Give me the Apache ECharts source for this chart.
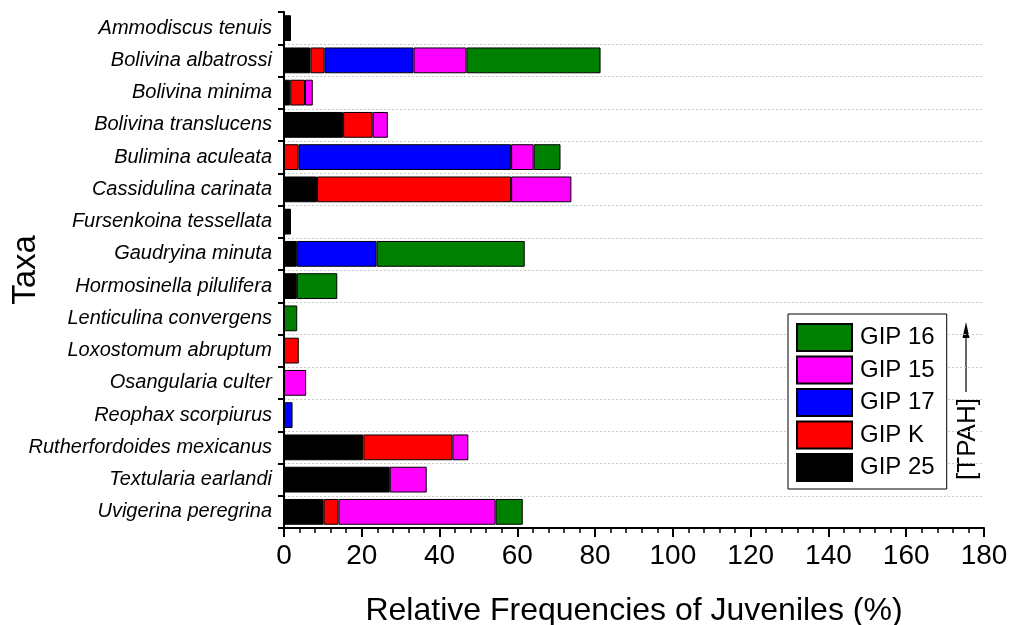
<!DOCTYPE html>
<html>
<head>
<meta charset="utf-8">
<script src="https://cdn.jsdelivr.net/npm/echarts@6/dist/echarts.min.js"></script>
<style>
  html, body { margin: 0; padding: 0; background: #fff; }
  #chart { width: 1011px; height: 625px; }
</style>
</head>
<body>
<div id="chart"></div>
<script>
// Taxa, listed top to bottom
const taxa = [
  'Ammodiscus tenuis', 'Bolivina albatrossi', 'Bolivina minima', 'Bolivina translucens',
  'Bulimina aculeata', 'Cassidulina carinata', 'Fursenkoina tessellata', 'Gaudryina minuta',
  'Hormosinella pilulifera', 'Lenticulina convergens', 'Loxostomum abruptum', 'Osangularia culter',
  'Reophax scorpiurus', 'Rutherfordoides mexicanus', 'Textularia earlandi', 'Uvigerina peregrina'
];

// Relative frequencies of juveniles (%) per station; null = not present
const gip25 = [1.8, 6.8, 1.6, 15.2, null, 8.5, 1.8, 3.3, 3.3, null, null, null, null, 20.4, 27.2, 10.2];
const gipK  = [null, 3.6, 3.8, 7.6, 3.7, 49.9, null, null, null, null, 3.8, null, null, 22.9, null, 3.8];
const gip17 = [null, 22.9, null, null, 54.7, null, null, 20.5, null, null, null, null, 2.2, null, null, null];
const gip15 = [null, 13.6, 2.0, 3.9, 5.8, 15.5, null, null, null, null, null, 5.7, null, 4.1, 9.5, 40.4];
const gip16 = [null, 34.5, null, null, 6.9, null, null, 38.1, 10.4, 3.4, null, null, null, null, null, 7.0];

const xTicks = { min: 0, max: 180, interval: 20 };
const legendOrder = ['GIP 16', 'GIP 15', 'GIP 17', 'GIP K', 'GIP 25'];

const FONT = '"Liberation Sans", Arial, sans-serif';

function stackSeries(name, data, color) {
  return {
    name: name,
    type: 'bar',
    stack: 'total',
    data: data,
    barCategoryGap: '20%',
    itemStyle: { color: color, borderColor: '#000', borderWidth: 1 }
  };
}

const chart = echarts.init(document.getElementById('chart'), null, { renderer: 'canvas' });

chart.setOption({
  animation: false,
  backgroundColor: '#fff',
  textStyle: { fontFamily: FONT, color: '#000' },
  grid: { left: 284, right: 27, top: 12, bottom: 97, containLabel: false, outerBoundsMode: 'none' },
  legend: {
    data: legendOrder,
    orient: 'vertical',
    left: 788,
    top: 314,
    padding: [9, 12, 7, 8],
    itemWidth: 55,
    itemHeight: 27,
    itemGap: 3.5,
    icon: 'rect',
    backgroundColor: '#fff',
    borderColor: '#000',
    borderWidth: 1,
    borderRadius: 0,
    textStyle: { fontFamily: FONT, fontSize: 24, color: '#000', padding: [0, 0, 0, 3] }
  },
  xAxis: {
    type: 'value',
    min: xTicks.min,
    max: xTicks.max,
    interval: xTicks.interval,
    name: 'Relative Frequencies of Juveniles (%)',
    nameLocation: 'middle',
    nameGap: 67,
    nameMoveOverlap: false,
    nameTextStyle: { fontFamily: FONT, fontSize: 32, color: '#000' },
    axisLine: { show: true, lineStyle: { color: '#000', width: 2 } },
    axisTick: { show: true, inside: false, length: 9, lineStyle: { color: '#000', width: 2 } },
    minorTick: { show: true, splitNumber: 5, length: 5, lineStyle: { color: '#000', width: 1.5 } },
    axisLabel: { fontFamily: FONT, fontSize: 28, color: '#000', margin: 14 },
    splitLine: { show: false }
  },
  yAxis: {
    type: 'category',
    data: taxa,
    inverse: true,
    name: 'Taxa',
    nameLocation: 'middle',
    nameGap: 242,
    nameMoveOverlap: false,
    nameRotate: 90,
    nameTextStyle: { fontFamily: FONT, fontSize: 33, color: '#000' },
    axisLine: { show: true, lineStyle: { color: '#000', width: 2 } },
    axisTick: { show: true, inside: false, length: 6, lineStyle: { color: '#000', width: 2 } },
    axisLabel: { fontFamily: FONT, fontSize: 20, fontStyle: 'italic', color: '#000', margin: 12 },
    splitLine: {
      show: true,
      showMinLine: false,
      showMaxLine: false,
      lineStyle: { color: '#c8c8c8', width: 1, type: [2, 2] }
    }
  },
  series: [
    stackSeries('GIP 25', gip25, '#000000'),
    stackSeries('GIP K', gipK, '#ff0000'),
    stackSeries('GIP 17', gip17, '#0000ff'),
    stackSeries('GIP 15', gip15, '#ff00ff'),
    stackSeries('GIP 16', gip16, '#008000')
  ],
  graphic: [
    {
      type: 'text',
      x: 968,
      y: 439,
      rotation: Math.PI / 2,
      style: {
        text: '[TPAH]',
        fontFamily: FONT,
        fontSize: 26,
        fill: '#000',
        align: 'center',
        verticalAlign: 'middle'
      }
    },
    {
      type: 'line',
      shape: { x1: 966, y1: 392, x2: 966, y2: 336 },
      style: { stroke: '#000', lineWidth: 1.2 }
    },
    {
      type: 'polygon',
      shape: { points: [[962.5, 338], [969.5, 338], [966, 322]] },
      style: { fill: '#000' }
    }
  ]
});
</script>
</body>
</html>
